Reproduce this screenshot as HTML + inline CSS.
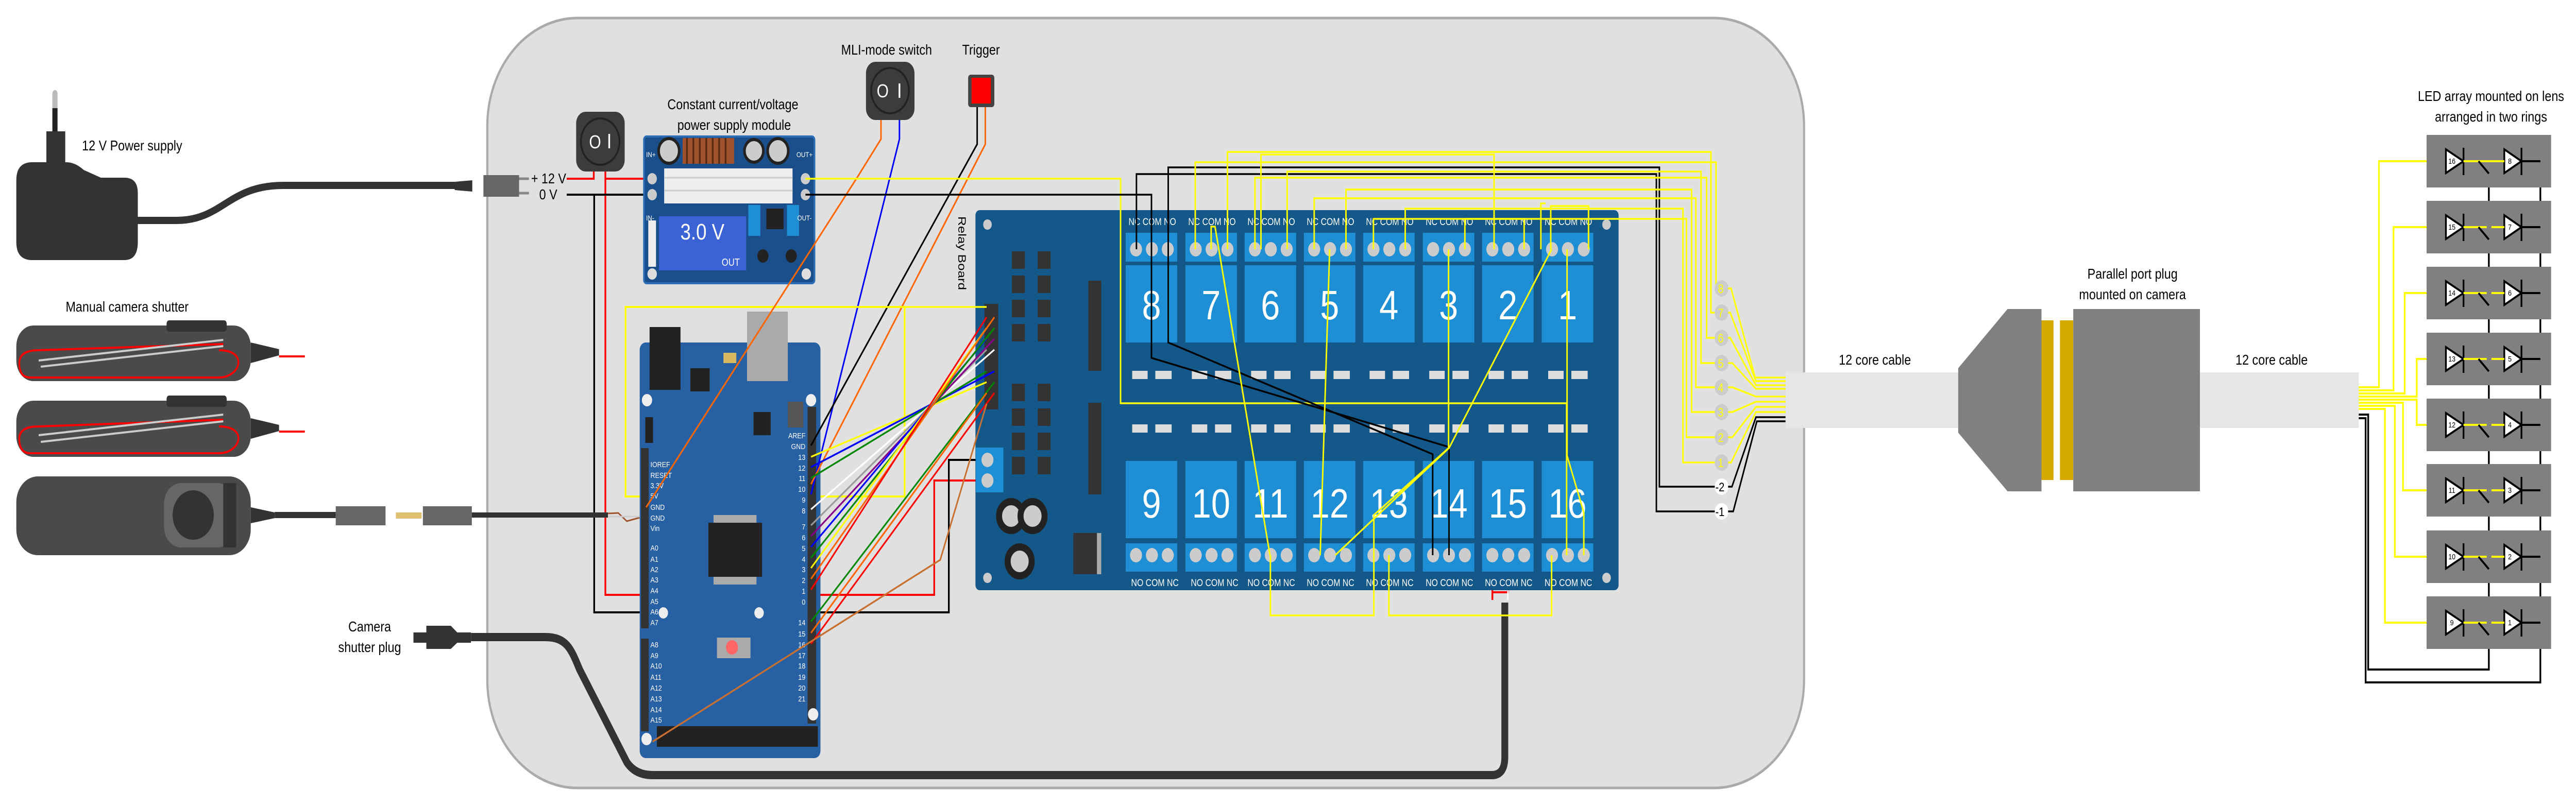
<!DOCTYPE html>
<html><head><meta charset="utf-8"><style>
html,body{margin:0;padding:0;background:#fff;overflow:hidden;width:100vw;height:100vh}
svg{display:block;width:100vw;height:100vh}
text{font-family:"Liberation Sans",sans-serif}
</style></head><body>
<svg viewBox="0 0 6000 1565" preserveAspectRatio="none" xmlns="http://www.w3.org/2000/svg">
<defs>
<g id="rtop">
<rect x="0" y="0" width="120" height="56" fill="#1e8fd5"/>
<circle cx="24" cy="32" r="14" fill="#ccc"/><circle cx="61" cy="32" r="14" fill="#ccc"/><circle cx="98" cy="32" r="14" fill="#ccc"/>
<rect x="0" y="63" width="120" height="150" fill="#1e8fd5"/>
<rect x="15" y="268" width="36" height="16" fill="#ddd"/><rect x="69" y="268" width="38" height="16" fill="#ddd"/>
<rect x="15" y="372" width="36" height="16" fill="#ddd"/><rect x="69" y="372" width="38" height="16" fill="#ddd"/>
<rect x="0" y="443" width="120" height="150" fill="#1e8fd5"/>
<rect x="0" y="603" width="120" height="55" fill="#1e8fd5"/>
<circle cx="24" cy="626" r="14" fill="#ccc"/><circle cx="61" cy="626" r="14" fill="#ccc"/><circle cx="98" cy="626" r="14" fill="#ccc"/>
</g>
<g id="led">
<rect x="0" y="0" width="290" height="102" fill="#808080"/>
<polygon points="45,28 86,51 45,74" fill="#fff" stroke="#000" stroke-width="4"/>
<line x1="86" y1="25" x2="86" y2="78" stroke="#000" stroke-width="4"/>
<polygon points="181,28 221,51 181,74" fill="#fff" stroke="#000" stroke-width="4"/>
<line x1="221" y1="25" x2="221" y2="78" stroke="#000" stroke-width="4"/>
<line x1="221" y1="51" x2="265" y2="51" stroke="#000" stroke-width="4"/>
<line x1="121" y1="51" x2="145" y2="75" stroke="#000" stroke-width="4"/>
</g>
</defs>

<rect x="1135" y="35" width="3067" height="1495" rx="210" fill="#e0e0e0" stroke="#aaa" stroke-width="5"/>

<rect x="122" y="175" width="12" height="80" rx="6" fill="#bbb"/>
<rect x="122" y="210" width="12" height="50" fill="#222"/>
<rect x="108" y="255" width="44" height="70" fill="#333"/>
<path d="M75,315 H155 Q175,315 195,330 L235,345 H290 Q321,345 321,375 V470 Q321,505 290,505 H75 Q38,505 38,470 V350 Q38,315 75,315 Z" fill="#333"/>
<text x="191" y="292" font-size="28">12 V Power supply</text>
<path d="M321,428 H410 C520,428 530,360 660,360 H1059" fill="none" stroke="#333" stroke-width="14"/>
<path d="M1059,353 L1100,350 V372 L1059,369Z" fill="#333"/>
<rect x="1126" y="340" width="83" height="42" fill="#666"/>
<line x1="1209" y1="347" x2="1232" y2="347" stroke="#888" stroke-width="5"/>
<line x1="1209" y1="375" x2="1232" y2="375" stroke="#888" stroke-width="5"/>
<text x="1237" y="356" font-size="28">+ 12 V</text>
<text x="1256" y="387" font-size="28">0 V</text>

<rect x="1342" y="217" width="113" height="116" rx="22" fill="#3c3c3c"/>
<ellipse cx="1398" cy="275" rx="45" ry="45" fill="none" stroke="#222" stroke-width="4"/>
<text x="1372" y="288" font-size="36" fill="#fff">O</text><rect x="1417" y="260" width="4" height="28" fill="#fff"/>

<polyline points="1320,347 1383,347 1383,333" fill="none" stroke="#f00" stroke-width="4"/>
<polyline points="1410,333 1410,347 1520,347" fill="none" stroke="#f00" stroke-width="4"/>
<polyline points="1410,347 1410,1155 2176,1155 2176,933 2300,933" fill="none" stroke="#f00" stroke-width="4"/>
<polyline points="1320,378 1520,378" fill="none" stroke="#000" stroke-width="4"/>
<polyline points="1384,378 1384,1189 2210,1189 2210,893 2300,893" fill="none" stroke="#000" stroke-width="4"/>

<text x="1707" y="212" font-size="28" text-anchor="middle">Constant current/voltage</text>
<text x="1710" y="252" font-size="28" text-anchor="middle">power supply module</text>
<rect x="1500" y="265" width="397" height="285" rx="6" fill="#1a4f8c" stroke="#2a6cb5" stroke-width="4"/>
<rect x="1590" y="268" width="120" height="50" fill="#a0522d"/>
<g stroke="#5a2a10" stroke-width="4"><line x1="1600" y1="268" x2="1600" y2="318"/><line x1="1615" y1="268" x2="1615" y2="318"/><line x1="1630" y1="268" x2="1630" y2="318"/><line x1="1645" y1="268" x2="1645" y2="318"/><line x1="1660" y1="268" x2="1660" y2="318"/><line x1="1675" y1="268" x2="1675" y2="318"/><line x1="1690" y1="268" x2="1690" y2="318"/></g>
<circle cx="1558" cy="293" r="24" fill="#ccc" stroke="#222" stroke-width="6"/>
<circle cx="1756" cy="293" r="22" fill="#ccc" stroke="#222" stroke-width="6"/>
<circle cx="1812" cy="293" r="24" fill="#ccc" stroke="#222" stroke-width="6"/>
<rect x="1547" y="327" width="299" height="68" fill="#eee"/>
<line x1="1547" y1="345" x2="1846" y2="345" stroke="#ccc" stroke-width="3"/><line x1="1547" y1="370" x2="1846" y2="370" stroke="#ccc" stroke-width="3"/>
<circle cx="1519" cy="347" r="11" fill="#ccc"/><circle cx="1519" cy="378" r="11" fill="#ccc"/>
<circle cx="1876" cy="347" r="11" fill="#ccc"/><circle cx="1876" cy="378" r="11" fill="#ccc"/>
<rect x="1510" y="428" width="18" height="90" fill="#eee"/>
<rect x="1535" y="420" width="203" height="105" fill="#3b63d6"/>
<text x="1636" y="465" font-size="44" fill="#fff" text-anchor="middle">3.0 V</text>
<text x="1702" y="516" font-size="20" fill="#fff" text-anchor="middle">OUT</text>
<rect x="1743" y="398" width="28" height="60" fill="#1e8fd5"/><rect x="1833" y="398" width="28" height="60" fill="#1e8fd5"/>
<rect x="1785" y="405" width="40" height="40" fill="#222"/>
<circle cx="1777" cy="497" r="13" fill="#222"/><circle cx="1843" cy="497" r="13" fill="#222"/>
<circle cx="1519" cy="532" r="11" fill="#ddd"/><circle cx="1878" cy="532" r="11" fill="#ddd"/>
<text x="1505" y="305" font-size="14" fill="#fff">IN+</text><text x="1855" y="305" font-size="14" fill="#fff">OUT+</text>
<text x="1505" y="428" font-size="14" fill="#fff">IN-</text><text x="1857" y="428" font-size="14" fill="#fff">OUT-</text>

<text x="153" y="605" font-size="28">Manual camera shutter</text>
<g>
<rect x="38" y="632" width="546" height="108" rx="40" fill="#4a4a4a"/>
<rect x="388" y="622" width="140" height="22" rx="6" fill="#333"/>
<path d="M584,665 L650,678 V690 L584,705Z" fill="#333"/>
<path d="M650,680 H710 M650,686 H710" stroke="#fff" stroke-width="3"/>
<path d="M650,692 H710" stroke="#f00" stroke-width="4"/>
<path d="M510,680 C580,680 560,733 510,733 H70 Q45,733 45,705 Q45,680 90,680 L520,668" fill="none" stroke="#f00" stroke-width="4"/>
<path d="M90,700 L520,660 M95,712 L520,672" stroke="#ccc" stroke-width="4"/>
</g>
<g>
<rect x="38" y="778" width="546" height="109" rx="40" fill="#4a4a4a"/>
<rect x="388" y="768" width="140" height="22" rx="6" fill="#333"/>
<path d="M584,812 L650,825 V837 L584,852Z" fill="#333"/>
<path d="M650,826 H710 M650,832 H710" stroke="#fff" stroke-width="3"/>
<path d="M650,838 H710" stroke="#f00" stroke-width="4"/>
<path d="M510,828 C580,828 560,880 510,880 H70 Q45,880 45,852 Q45,828 90,828 L520,815" fill="none" stroke="#f00" stroke-width="4"/>
<path d="M90,845 L520,805 M95,858 L520,818" stroke="#ccc" stroke-width="4"/>
</g>
<rect x="38" y="925" width="546" height="153" rx="50" fill="#4a4a4a"/>
<rect x="382" y="938" width="165" height="125" rx="40" fill="#666"/>
<rect x="520" y="938" width="30" height="125" fill="#333"/>
<ellipse cx="450" cy="1000" rx="48" ry="48" fill="#333"/>
<path d="M584,985 L640,995 V1006 L584,1016Z" fill="#333"/>
<line x1="640" y1="1000" x2="782" y2="1000" stroke="#333" stroke-width="12"/>
<rect x="782" y="983" width="116" height="37" fill="#666"/>
<rect x="922" y="995" width="60" height="12" fill="#e0c070"/>
<rect x="985" y="983" width="114" height="37" fill="#666"/>
<line x1="1099" y1="1000" x2="1416" y2="1000" stroke="#333" stroke-width="10"/>
<path d="M1416,997 L1440,996 L1460,1012 L1490,1005" fill="none" stroke="#a0522d" stroke-width="3"/>
<line x1="1416" y1="1003" x2="1490" y2="1003" stroke="#ccc" stroke-width="3"/>

<text x="861" y="1226" font-size="28" text-anchor="middle">Camera</text>
<text x="861" y="1266" font-size="28" text-anchor="middle">shutter plug</text>
<rect x="963" y="1228" width="30" height="20" fill="#333"/>
<path d="M993,1215 H1050 L1065,1228 H1097 V1248 H1065 L1050,1260 H993Z" fill="#333"/>
<path d="M1097,1237 H1270 C1320,1237 1330,1260 1350,1300 L1460,1480 Q1480,1505 1520,1505 H3475 Q3505,1505 3505,1470 V1170" fill="none" stroke="#333" stroke-width="16"/>
<polyline points="3476,1165 3476,1080" fill="none" stroke="#f00" stroke-width="4"/>
<polyline points="3476,1165 3476,1150 3512,1150 3512,1080" fill="none" stroke="#f00" stroke-width="4"/>
<line x1="3512" y1="1165" x2="3512" y2="1080" stroke="#fff" stroke-width="3"/>

<rect x="1457" y="596" width="650" height="368" fill="none" stroke="#ff0" stroke-width="4"/>
<rect x="1490" y="665" width="421" height="807" rx="14" fill="#2860a4"/>
<rect x="1740" y="605" width="95" height="135" fill="#aaa"/>
<rect x="1513" y="635" width="72" height="122" fill="#222"/>
<rect x="1493" y="870" width="18" height="350" fill="#333"/>
<rect x="1493" y="1240" width="18" height="180" fill="#333"/>
<rect x="1881" y="790" width="20" height="415" fill="#333"/>
<rect x="1881" y="1205" width="20" height="200" fill="#333"/>
<rect x="1530" y="1410" width="375" height="40" fill="#222"/>
<rect x="1662" y="1000" width="100" height="135" fill="#aaa"/>
<rect x="1650" y="1015" width="125" height="105" fill="#222"/>
<rect x="1670" y="1238" width="78" height="40" fill="#aaa"/><circle cx="1705" cy="1257" r="14" fill="#f66"/>
<circle cx="1507" cy="777" r="12" fill="#eee"/><circle cx="1889" cy="777" r="12" fill="#eee"/>
<circle cx="1894" cy="1387" r="12" fill="#eee"/><circle cx="1506" cy="1435" r="12" fill="#eee"/>
<circle cx="1545" cy="1190" r="11" fill="#eee"/><circle cx="1768" cy="1190" r="11" fill="#eee"/>
<rect x="1755" y="800" width="40" height="45" fill="#222"/>
<rect x="1835" y="780" width="36" height="50" fill="#555"/>
<rect x="1503" y="810" width="18" height="50" fill="#222"/>
<rect x="1608" y="715" width="45" height="45" fill="#222"/><rect x="1685" y="685" width="30" height="20" fill="#d8b860"/>
<g font-size="15" fill="#fff">
<text x="1515" y="907">IOREF</text><text x="1515" y="928">RESET</text><text x="1515" y="948">3.3V</text><text x="1515" y="968">5V</text><text x="1515" y="990">GND</text><text x="1515" y="1011">GND</text><text x="1515" y="1031">Vin</text>
<text x="1515" y="1069">A0</text><text x="1515" y="1091">A1</text><text x="1515" y="1111">A2</text><text x="1515" y="1131">A3</text><text x="1515" y="1152">A4</text><text x="1515" y="1173">A5</text><text x="1515" y="1193">A6</text><text x="1515" y="1214">A7</text>
<text x="1515" y="1257">A8</text><text x="1515" y="1278">A9</text><text x="1515" y="1298">A10</text><text x="1515" y="1320">A11</text><text x="1515" y="1341">A12</text><text x="1515" y="1362">A13</text><text x="1515" y="1383">A14</text><text x="1515" y="1403">A15</text>
<g text-anchor="end"><text x="1876" y="851">AREF</text><text x="1876" y="872">GND</text><text x="1876" y="893">13</text><text x="1876" y="914">12</text><text x="1876" y="934">11</text><text x="1876" y="955">10</text><text x="1876" y="976">9</text><text x="1876" y="997">8</text>
<text x="1876" y="1028">7</text><text x="1876" y="1049">6</text><text x="1876" y="1070">5</text><text x="1876" y="1091">4</text><text x="1876" y="1111">3</text><text x="1876" y="1132">2</text><text x="1876" y="1153">1</text><text x="1876" y="1174">0</text>
<text x="1876" y="1214">14</text><text x="1876" y="1236">15</text><text x="1876" y="1257">16</text><text x="1876" y="1278">17</text><text x="1876" y="1298">18</text><text x="1876" y="1320">19</text><text x="1876" y="1341">20</text><text x="1876" y="1362">21</text></g>
</g>

<text x="2065" y="106" font-size="28" text-anchor="middle">MLI-mode switch</text>
<rect x="2017" y="120" width="113" height="113" rx="22" fill="#3c3c3c"/>
<ellipse cx="2073" cy="176" rx="44" ry="44" fill="none" stroke="#222" stroke-width="4"/>
<text x="2042" y="189" font-size="36" fill="#fff">O</text><rect x="2093" y="162" width="4" height="28" fill="#fff"/>
<text x="2285" y="106" font-size="28" text-anchor="middle">Trigger</text>
<rect x="2255" y="145" width="61" height="63" rx="6" fill="#444"/>
<rect x="2263" y="151" width="45" height="50" fill="#f00"/>

<rect x="2272" y="408" width="1498" height="738" rx="10" fill="#135888"/>
<text transform="translate(2232,420) rotate(90)" font-size="26">Relay Board</text>
<rect x="2293" y="590" width="32" height="205" fill="#333"/>
<rect x="2273" y="869" width="64" height="87" fill="#1e8fd5"/>
<circle cx="2300" cy="893" r="14" fill="#ccc"/><circle cx="2300" cy="933" r="14" fill="#ccc"/>
<g fill="#333">
<rect x="2357" y="488" width="30" height="34"/><rect x="2357" y="535" width="30" height="34"/><rect x="2357" y="582" width="30" height="34"/><rect x="2357" y="629" width="30" height="34"/>
<rect x="2417" y="488" width="30" height="34"/><rect x="2417" y="535" width="30" height="34"/><rect x="2417" y="582" width="30" height="34"/><rect x="2417" y="629" width="30" height="34"/>
<rect x="2357" y="745" width="30" height="34"/><rect x="2357" y="793" width="30" height="34"/><rect x="2357" y="840" width="30" height="34"/><rect x="2357" y="887" width="30" height="34"/>
<rect x="2417" y="745" width="30" height="34"/><rect x="2417" y="793" width="30" height="34"/><rect x="2417" y="840" width="30" height="34"/><rect x="2417" y="887" width="30" height="34"/>
<rect x="2535" y="545" width="30" height="175"/><rect x="2535" y="782" width="30" height="178"/>
</g>
<circle cx="2355" cy="1002" r="28" fill="#ccc" stroke="#222" stroke-width="14"/>
<circle cx="2405" cy="1002" r="28" fill="#ccc" stroke="#222" stroke-width="14"/>
<circle cx="2375" cy="1090" r="28" fill="#ccc" stroke="#222" stroke-width="14"/>
<rect x="2500" y="1035" width="55" height="80" fill="#333"/><rect x="2555" y="1035" width="10" height="80" fill="#aaa"/>
<circle cx="2300" cy="1122" r="10" fill="#ccc"/><circle cx="2300" cy="436" r="10" fill="#ccc"/>
<circle cx="3742" cy="436" r="10" fill="#ccc"/><circle cx="3742" cy="1122" r="10" fill="#ccc"/>
<use href="#rtop" x="2622" y="452"/><use href="#rtop" x="2761" y="452"/><use href="#rtop" x="2899" y="452"/><use href="#rtop" x="3037" y="452"/>
<use href="#rtop" x="3175" y="452"/><use href="#rtop" x="3314" y="452"/><use href="#rtop" x="3452" y="452"/><use href="#rtop" x="3591" y="452"/>
<g font-size="80" fill="#fff" text-anchor="middle">
<text x="2682" y="620">8</text><text x="2821" y="620">7</text><text x="2959" y="620">6</text><text x="3097" y="620">5</text><text x="3235" y="620">4</text><text x="3374" y="620">3</text><text x="3512" y="620">2</text><text x="3651" y="620">1</text>
<text x="2682" y="1005">9</text><text x="2821" y="1005">10</text><text x="2959" y="1005">11</text><text x="3097" y="1005">12</text><text x="3235" y="1005">13</text><text x="3374" y="1005">14</text><text x="3512" y="1005">15</text><text x="3651" y="1005">16</text>
</g>
<g font-size="19" fill="#fff" text-anchor="middle">
<text x="2684" y="437">NC COM NO</text><text x="2823" y="437">NC COM NO</text><text x="2961" y="437">NC COM NO</text><text x="3099" y="437">NC COM NO</text><text x="3237" y="437">NC COM NO</text><text x="3376" y="437">NC COM NO</text><text x="3514" y="437">NC COM NO</text><text x="3653" y="437">NC COM NO</text>
<text x="2690" y="1138">NO COM NC</text><text x="2829" y="1138">NO COM NC</text><text x="2961" y="1138">NO COM NC</text><text x="3099" y="1138">NO COM NC</text><text x="3237" y="1138">NO COM NC</text><text x="3376" y="1138">NO COM NC</text><text x="3514" y="1138">NO COM NC</text><text x="3653" y="1138">NO COM NC</text>
</g>

<g fill="none" stroke-width="3.5">
<polyline points="2052,233 2052,270 2000,340 1505,985" stroke="#f60"/>
<polyline points="2095,233 2095,270 1889,960" stroke="#00f"/>
<polyline points="2276,208 2276,280 1889,865" stroke="#000"/>
<polyline points="2295,208 2295,280 1889,940" stroke="#f60"/>
<polyline points="1876,347 2610,347 2610,783 3649,783 3649,1078" stroke="#ff0"/>
<polyline points="1900,596 2298,596" stroke="#ff0"/>
<polyline points="1876,378 2682,378 2682,695 3375,868 3375,1078" stroke="#000"/>
<polyline points="2647,484 2647,338 3858,338 3858,993 4000,993" stroke="#000"/>
<polyline points="3337,1078 3337,882 2721,665 2721,325 3865,325 3865,945 4000,945" stroke="#000"/>
<line x1="1889" y1="887" x2="2298" y2="742" stroke="#ff0"/>
<line x1="1889" y1="907" x2="2316" y2="721" stroke="#00f"/>
<line x1="1889" y1="928" x2="2298" y2="721" stroke="#080"/>
<line x1="1889" y1="989" x2="2316" y2="679" stroke="#fff"/>
<line x1="1889" y1="1020" x2="2298" y2="679" stroke="#999"/>
<line x1="1889" y1="1041" x2="2316" y2="658" stroke="#808"/>
<line x1="1889" y1="1062" x2="2298" y2="658" stroke="#00f"/>
<line x1="1889" y1="1083" x2="2316" y2="637" stroke="#080"/>
<line x1="1889" y1="1103" x2="2298" y2="637" stroke="#ff0"/>
<line x1="1889" y1="1124" x2="2316" y2="616" stroke="#f60"/>
<line x1="1889" y1="1145" x2="2298" y2="616" stroke="#f00"/>
<line x1="1889" y1="1207" x2="2316" y2="742" stroke="#080"/>
<line x1="1889" y1="1229" x2="2298" y2="763" stroke="#f60"/>
<line x1="1889" y1="1250" x2="2316" y2="763" stroke="#f00"/>
<polyline points="1520,1440 2190,1087 2298,784" stroke="#c87030"/>
</g>

<g fill="none" stroke="#ff0" stroke-width="3.5">
<polyline points="2784,484 2784,315 3997,315 3997,560 4025,560"/>
<polyline points="2859,484 2859,295 3985,295 3985,607 4025,607"/>
<polyline points="2923,484 2923,345 3975,345 3975,656 4025,656"/>
<polyline points="2998,484 2998,333 3962,333 3962,705 4025,705"/>
<polyline points="3061,484 3061,385 3950,385 3950,752 4025,752"/>
<polyline points="3135,484 3135,368 3940,368 3940,800 4025,800"/>
<polyline points="3199,484 3199,425 3928,425 3928,849 4025,849"/>
<polyline points="3273,484 3273,405 3920,405 3920,898 4025,898"/>
<polyline points="2821,484 2821,440 2830,440 2958,1078"/>
<polyline points="2937,484 2937,300 3480,300 3480,484"/>
<polyline points="3097,484 3097,485 3075,1078"/>
<polyline points="3412,484 3412,425 3550,425 3550,484"/>
<polyline points="3589,484 3589,395 3600,395"/>
<polyline points="3650,484 3650,885 3689,995 3689,1078"/>
<polyline points="3614,484 3375,870 3110,1078"/>
<polyline points="3374,484 3374,870 3200,1000 3200,1195 2959,1195 2959,1078"/>
<polyline points="3235,1078 3235,1195 3614,1195 3614,1078"/>
<polyline points="3612,484 3612,400 3700,400 3700,484"/>
</g>

<circle cx="4010" cy="560" r="16" fill="#ccc"/><circle cx="4010" cy="607" r="16" fill="#ccc"/><circle cx="4010" cy="656" r="16" fill="#ccc"/><circle cx="4010" cy="705" r="16" fill="#ccc"/>
<circle cx="4010" cy="752" r="16" fill="#ccc"/><circle cx="4010" cy="800" r="16" fill="#ccc"/><circle cx="4010" cy="849" r="16" fill="#ccc"/><circle cx="4010" cy="898" r="16" fill="#ccc"/>
<circle cx="4010" cy="945" r="16" fill="#fff"/><circle cx="4010" cy="993" r="16" fill="#fff"/>
<g fill="none" stroke="#ff0" stroke-width="3.5">
<polyline points="4025,560 4032,560 4088,733 4159,733"/>
<polyline points="4025,607 4030,607 4090,740 4159,740"/>
<polyline points="4025,656 4030,656 4090,748 4159,748"/>
<polyline points="4025,705 4035,705 4090,755 4159,755"/>
<polyline points="4025,752 4035,752 4090,770 4159,770"/>
<polyline points="4025,800 4035,800 4090,780 4159,780"/>
<polyline points="4025,849 4035,849 4090,790 4159,790"/>
<polyline points="4025,898 4032,898 4090,800 4159,800"/>
</g>
<g fill="none" stroke="#000" stroke-width="3.5">
<polyline points="4025,945 4034,945 4090,810 4159,810"/>
<polyline points="4025,993 4037,993 4092,818 4159,818"/>
</g>

<rect x="4159" y="723" width="402" height="108" fill="#e6e6e6"/>
<text x="4367" y="708" font-size="28" text-anchor="middle">12 core cable</text>
<polygon points="4561,715 4676,600 4755,600 4755,954 4676,954 4561,840" fill="#808080"/>
<rect x="4755" y="622" width="28" height="310" fill="#d4aa00"/>
<rect x="4798" y="622" width="31" height="310" fill="#d4aa00"/>
<rect x="4829" y="600" width="295" height="354" fill="#808080"/>
<text x="4967" y="541" font-size="28" text-anchor="middle">Parallel port plug</text>
<text x="4967" y="581" font-size="28" text-anchor="middle">mounted on camera</text>
<rect x="5124" y="723" width="370" height="108" fill="#e6e6e6"/>
<text x="5291" y="708" font-size="28" text-anchor="middle">12 core cable</text>

<text x="5802" y="196" font-size="28" text-anchor="middle">LED array mounted on lens</text>
<text x="5802" y="236" font-size="28" text-anchor="middle">arranged in two rings</text>
<g fill="none" stroke="#ff0" stroke-width="4">
<polyline points="5494,752 5541,752 5541,313 5697,313"/>
<polyline points="5494,758 5575,758 5575,441 5697,441"/>
<polyline points="5494,764 5601,764 5601,569 5697,569"/>
<polyline points="5494,770 5629,770 5629,697 5697,697"/>
<polyline points="5494,776 5629,776 5629,825 5697,825"/>
<polyline points="5494,782 5597,782 5597,952 5697,952"/>
<polyline points="5494,788 5578,788 5578,1081 5697,1081"/>
<polyline points="5494,794 5555,794 5555,1209 5697,1209"/>
</g>
<g fill="none" stroke="#000" stroke-width="4">
<polyline points="5494,805 5516,805 5516,1300 5797,1300 5797,336"/>
<polyline points="5494,812 5510,812 5510,1325 5917,1325 5917,313"/>
</g>
<use href="#led" x="5652" y="262"/><use href="#led" x="5652" y="390"/><use href="#led" x="5652" y="518"/><use href="#led" x="5652" y="646"/>
<use href="#led" x="5652" y="774"/><use href="#led" x="5652" y="901"/><use href="#led" x="5652" y="1030"/><use href="#led" x="5652" y="1158"/>
<g stroke="#ff0" stroke-width="4">
<line x1="5738" y1="313" x2="5833" y2="313"/>
<line x1="5738" y1="441" x2="5792" y2="441"/><line x1="5803" y1="441" x2="5833" y2="441"/>
<line x1="5738" y1="569" x2="5792" y2="569"/><line x1="5803" y1="569" x2="5833" y2="569"/>
<line x1="5738" y1="697" x2="5792" y2="697"/><line x1="5803" y1="697" x2="5833" y2="697"/>
<line x1="5738" y1="825" x2="5792" y2="825"/><line x1="5803" y1="825" x2="5833" y2="825"/>
<line x1="5738" y1="952" x2="5792" y2="952"/><line x1="5803" y1="952" x2="5833" y2="952"/>
<line x1="5738" y1="1081" x2="5792" y2="1081"/><line x1="5803" y1="1081" x2="5833" y2="1081"/>
<line x1="5738" y1="1209" x2="5792" y2="1209"/><line x1="5803" y1="1209" x2="5833" y2="1209"/>
</g>
<g stroke="#000" stroke-width="4">
<line x1="5773" y1="313" x2="5797" y2="337"/><line x1="5773" y1="441" x2="5797" y2="465"/><line x1="5773" y1="569" x2="5797" y2="593"/><line x1="5773" y1="697" x2="5797" y2="721"/>
<line x1="5773" y1="825" x2="5797" y2="849"/><line x1="5773" y1="952" x2="5797" y2="976"/><line x1="5773" y1="1081" x2="5797" y2="1105"/><line x1="5773" y1="1209" x2="5797" y2="1233"/>
</g>
<g font-size="15" text-anchor="middle">
<text x="5711" y="318">16</text><text x="5846" y="318">8</text>
<text x="5711" y="446">15</text><text x="5846" y="446">7</text>
<text x="5711" y="574">14</text><text x="5846" y="574">6</text>
<text x="5711" y="702">13</text><text x="5846" y="702">5</text>
<text x="5711" y="830">12</text><text x="5846" y="830">4</text>
<text x="5711" y="957">11</text><text x="5846" y="957">3</text>
<text x="5711" y="1086">10</text><text x="5846" y="1086">2</text>
<text x="5711" y="1214">9</text><text x="5846" y="1214">1</text>
</g>
<g font-size="24" fill="#ff0" text-anchor="middle">
<text x="4008" y="569">8</text><text x="4008" y="616">7</text><text x="4008" y="665">6</text><text x="4008" y="714">5</text><text x="4008" y="761">4</text><text x="4008" y="809">3</text><text x="4008" y="858">2</text><text x="4008" y="907">1</text>
</g>
<g font-size="24" text-anchor="middle"><text x="4006" y="954">-2</text><text x="4006" y="1002">-1</text></g>
</svg>
</body></html>
